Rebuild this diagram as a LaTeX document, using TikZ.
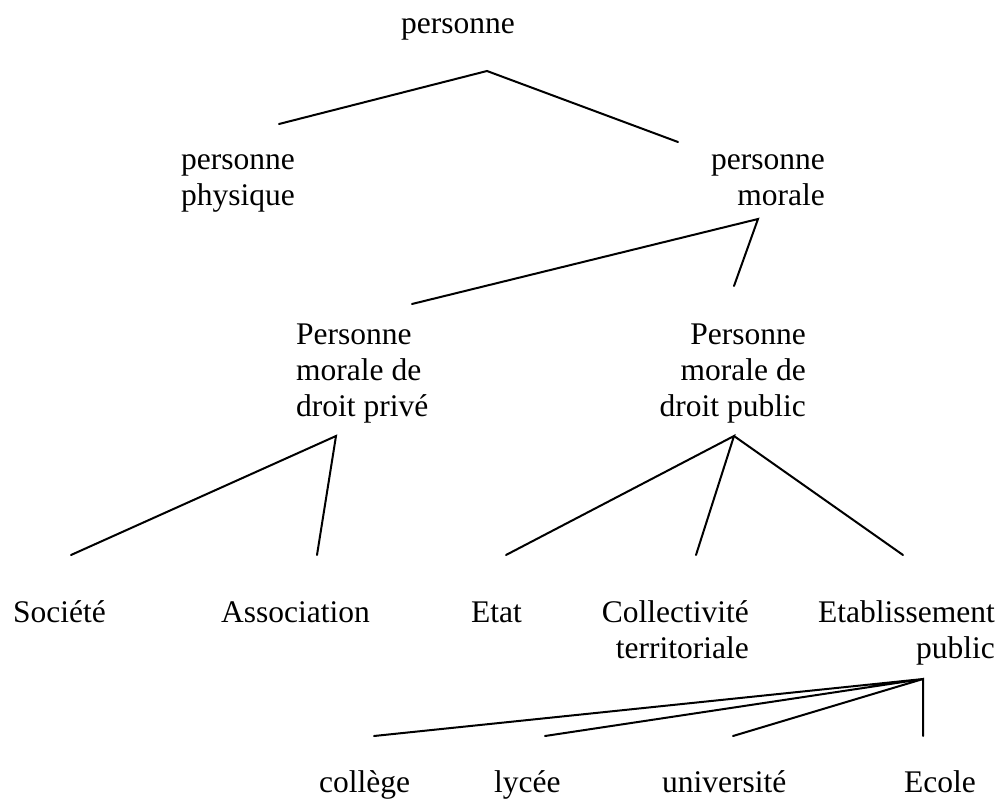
\documentclass[tikz,border=0pt]{standalone}
\usepackage{fontspec}
\setmainfont{Liberation Serif}
\begin{document}
\begin{tikzpicture}[x=1pt,y=-1pt,
  lbl/.style={inner sep=0pt,font=\fontsize{31.5}{36}\selectfont},
  lw/.style={lbl,anchor=base west,align=left},
  le/.style={lbl,anchor=base east,align=right},
  link/.style={line width=2pt,line cap=round}]
\useasboundingbox (0,0) rectangle (1005,803);
% labels (multi-line nodes: position = baseline of last line)
\node[lw] (p) at (401,33) {personne};
\node[lw] (pp) at (181,205) {personne\\physique};
\node[le] (pm) at (825,205) {personne\\morale};
\node[lw] (pmpriv) at (296,416) {Personne\\morale de\\droit privé};
\node[le] (pmpub) at (806,416) {Personne\\morale de\\droit public};
\node[lw] (soc) at (13,622) {Société};
\node[lw] (assoc) at (221,622) {Association};
\node[lw] (etat) at (471,622) {Etat};
\node[le] (coll) at (749,658) {Collectivité\\territoriale};
\node[le] (etab) at (995,658) {Etablissement\\public};
\node[lw] (col) at (319,792) {collège};
\node[lw] (lyc) at (494,792) {lycée};
\node[lw] (univ) at (662,792) {université};
\node[lw] (ecole) at (904,792) {Ecole};
% connector ends
\coordinate (p-b) at (487,71);
\coordinate (pp-t) at (279,124);
\coordinate (pm-t) at (678,142);
\coordinate (pm-b) at (758,219);
\coordinate (pmpriv-t) at (412,304);
\coordinate (pmpub-t) at (734,286);
\coordinate (pmpriv-b) at (336,436);
\coordinate (soc-t) at (71,555);
\coordinate (assoc-t) at (317,555);
\coordinate (pmpub-b) at (734,436);
\coordinate (etat-t) at (506,555);
\coordinate (coll-t) at (696,555);
\coordinate (etab-t) at (903,555);
\coordinate (etab-b) at (923,679);
\coordinate (col-t) at (374,736);
\coordinate (lyc-t) at (545,736);
\coordinate (univ-t) at (733,736);
\coordinate (ecole-t) at (923,736);
% connectors
\draw[link] (pp-t) -- (p-b) -- (pm-t);
\draw[link] (pmpriv-t) -- (pm-b) -- (pmpub-t);
\draw[link] (soc-t) -- (pmpriv-b) -- (assoc-t);
\draw[link] (etat-t) -- (pmpub-b) -- (coll-t);
\draw[link] (pmpub-b) -- (etab-t);
\draw[link] (col-t) -- (etab-b) -- (lyc-t);
\draw[link] (univ-t) -- (etab-b) -- (ecole-t);
\end{tikzpicture}
\end{document}
